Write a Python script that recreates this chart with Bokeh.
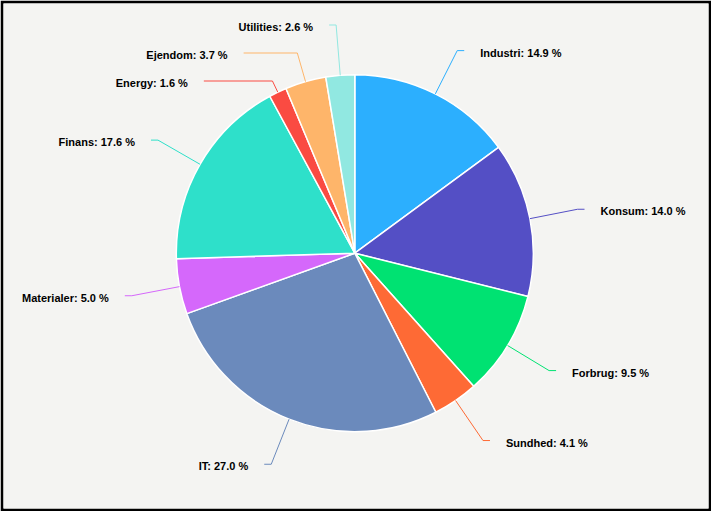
import math
from bokeh.plotting import figure
from bokeh.models import ColumnDataSource, Range1d
from bokeh.core.properties import value
from bokeh.embed import file_html
from bokeh.resources import INLINE

# ---------------- data ----------------
sectors = ["Industri", "Konsum", "Forbrug", "Sundhed", "IT",
           "Materialer", "Finans", "Energy", "Ejendom", "Utilities"]
shares = [14.9, 14.0, 9.5, 4.1, 27.0, 5.0, 17.6, 1.6, 3.7, 2.6]
colors = ["#2caffe", "#544fc5", "#00e272", "#fe6a35", "#6b8abc",
          "#d568fb", "#2ee0ca", "#fa4b42", "#feb56a", "#91e8e1"]

# ---------------- layout ----------------
W, H = 711, 511
BORDER = 3
BG = "#f4f4f2"
CX, CY = 354.3, 252.7          # pie centre in screen pixels
R = 178.5                       # pie radius
R_LABEL = 227.0                 # natural label radius
R_ANCHOR = 229.0
LABEL_GAP = 28.0
Y_MIN, Y_MAX = 24.5, 480.0
HOOK = 7.0
TEXT_PAD = 16.0


def sy(py):
    """screen y (down) -> data y (up)"""
    return H - py


total = sum(shares)
starts, ends, mids = [], [], []
acc = 0.0
for v in shares:
    a0 = acc / total * 2 * math.pi
    acc += v
    a1 = acc / total * 2 * math.pi
    starts.append(a0)
    ends.append(a1)
    mids.append((a0 + a1) / 2)

# natural label positions
natural = [CY - R_LABEL * math.cos(m) for m in mids]
side = [1 if math.sin(m) > 0 else -1 for m in mids]


def distribute(idx):
    idx = sorted(idx, key=lambda i: natural[i])
    groups = [[i] for i in idx]

    def place(g):
        n = len(g)
        mean = sum(natural[i] for i in g) / n
        top = mean - (n - 1) * LABEL_GAP / 2
        top = max(Y_MIN, min(top, Y_MAX - (n - 1) * LABEL_GAP))
        return top

    changed = True
    while changed:
        changed = False
        for k in range(len(groups) - 1):
            t0 = place(groups[k])
            t1 = place(groups[k + 1])
            if t1 < t0 + len(groups[k]) * LABEL_GAP:
                groups[k] = groups[k] + groups[k + 1]
                del groups[k + 1]
                changed = True
                break
    pos = {}
    for g in groups:
        top = place(g)
        for j, i in enumerate(g):
            pos[i] = top + j * LABEL_GAP
    return pos


label_y = [0.0] * len(shares)
for s in (1, -1):
    pos = distribute([i for i in range(len(shares)) if side[i] == s])
    for i, y in pos.items():
        label_y[i] = y

xs, ys, tx, ty, txt, talign = [], [], [], [], [], []
for i in range(len(shares)):
    s = side[i]
    y = label_y[i]
    dy = y - CY
    phi = mids[i]
    dx_dir, dy_dir = math.sin(phi), -math.cos(phi)
    tx0, ty0 = CX + R * dx_dir, CY + R * dy_dir
    t = (y - ty0) / dy_dir if abs(dy_dir) > 1e-6 else 0.0
    t = max(t, 0.0)
    bx, by = tx0 + t * dx_dir, ty0 + t * dy_dir
    ax = CX + s * max(math.sqrt(max(R_ANCHOR ** 2 - dy ** 2, 0.0)), abs(bx - CX) + HOOK)
    xs.append([tx0, bx, ax])
    ys.append([sy(ty0), sy(by), sy(y)])
    tx.append(ax + s * TEXT_PAD)
    ty.append(sy(y + 2))
    txt.append(f"{sectors[i]}: {shares[i]:.1f} %")
    talign.append("left" if s > 0 else "right")

# ---------------- figure ----------------
p = figure(width=W, height=H, output_backend="svg", toolbar_location=None,
           x_range=Range1d(BORDER, W - BORDER), y_range=Range1d(BORDER, H - BORDER),
           x_axis_location=None, y_axis_location=None, min_border=BORDER)
p.min_border_left = p.min_border_right = p.min_border_top = p.min_border_bottom = BORDER
p.border_fill_color = "#000000"
p.background_fill_color = BG
p.outline_line_color = None
p.grid.visible = False

wedge_src = ColumnDataSource(dict(
    start=[math.pi / 2 - e for e in ends],
    end=[math.pi / 2 - s for s in starts],
    color=colors,
))
p.wedge(x=CX, y=sy(CY), radius=R, start_angle="start", end_angle="end",
        direction="anticlock", fill_color="color", line_color="#ffffff",
        line_width=1.5, source=wedge_src)

p.multi_line(xs=xs, ys=ys, line_color=colors, line_width=1)

for al in ("left", "right"):
    sel = [k for k in range(len(txt)) if talign[k] == al]
    src = ColumnDataSource(dict(x=[tx[k] for k in sel], y=[ty[k] for k in sel],
                                t=[txt[k] for k in sel]))
    p.text(x="x", y="y", text="t", source=src, text_align=al, text_baseline="middle",
           text_font=value("Liberation Sans"), text_font_style="bold",
           text_font_size="11px", text_color="#000000")

open("out.html", "w").write(file_html(p, INLINE))
